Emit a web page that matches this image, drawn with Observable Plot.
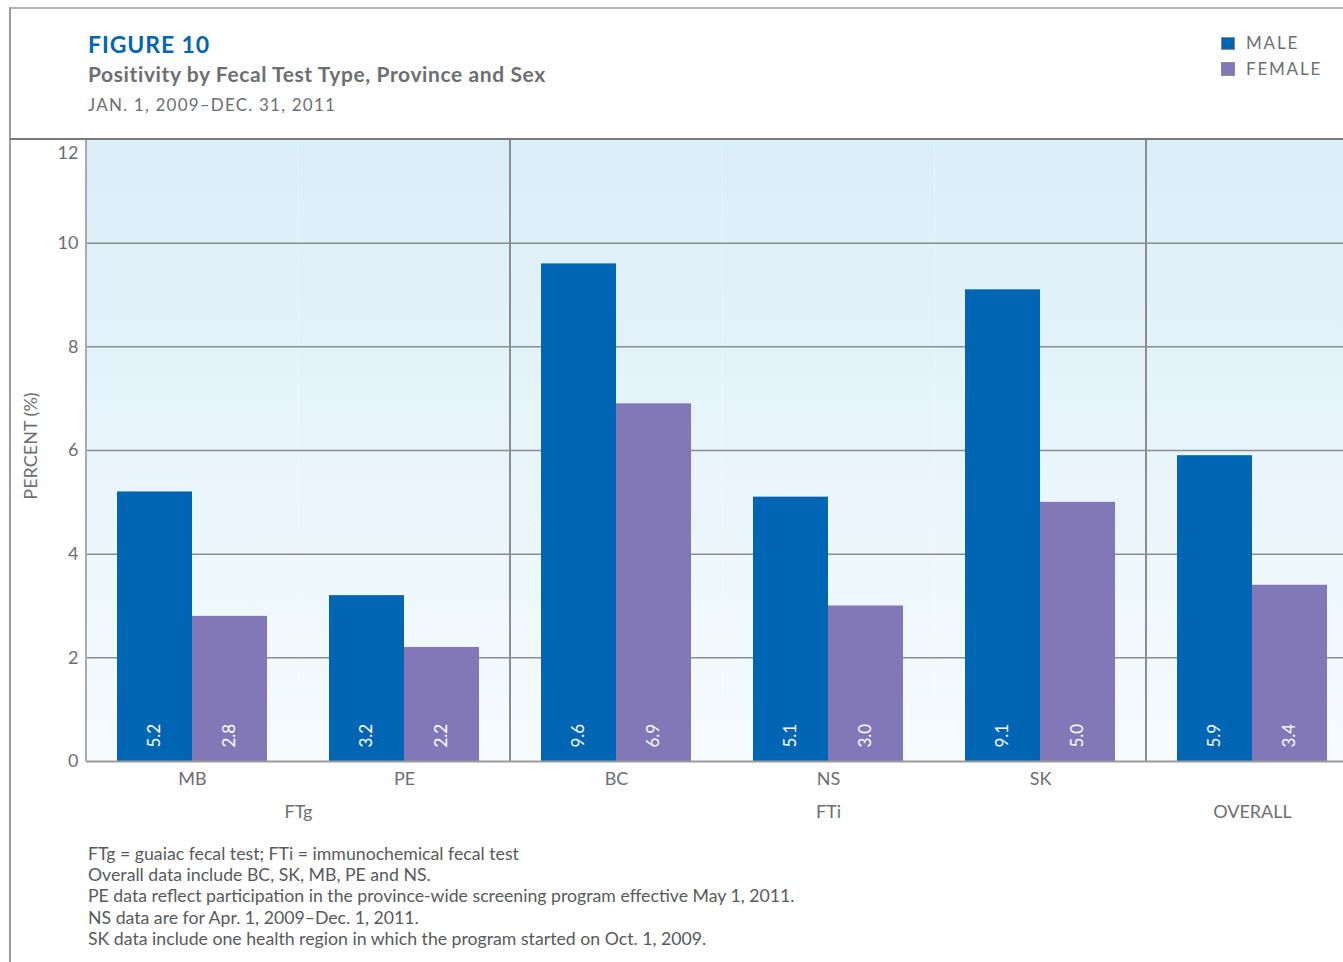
<!DOCTYPE html>
<html>
<head>
<meta charset="utf-8">
<script src="https://cdn.jsdelivr.net/npm/d3@7"></script>
<script src="https://cdn.jsdelivr.net/npm/@observablehq/plot@0.6"></script>
<style>
html, body { margin: 0; padding: 0; background: #fff; }
body { width: 1343px; height: 962px; overflow: hidden; position: relative; font-family: Lato, "Open Sans", sans-serif; }
.abs { position: absolute; white-space: nowrap; line-height: 1; }
#topline { left: 10px; top: 7px; width: 1333px; height: 2px; background: #b4b4b4; }
#leftline { left: 9px; top: 7px; width: 2px; height: 955px; background: #9c9c9c; }
#plotline { left: 10px; top: 138px; width: 1333px; height: 2px; background: #7a7a7a; z-index: 3; }
#title { left: 88px; top: 32.6px; font-size: 23px; font-weight: 700; color: #0066b3; letter-spacing: 0.9px; }
#subtitle { left: 88px; top: 63.4px; font-size: 21px; font-weight: 700; color: #6d6e71; letter-spacing: 0.6px; }
#dates { left: 88px; top: 95.9px; font-size: 17px; color: #6d6e71; letter-spacing: 1.2px; }
.legsw { width: 11.5px; height: 11.5px; border: 1px solid #8a8a8a; }
.legtx { font-size: 17px; color: #6d6e71; letter-spacing: 1.8px; }
#ylabel { left: -70px; top: 437px; width: 200px; height: 18px; text-align: center; font-size: 18px; color: #6d6e71; transform: rotate(-90deg); }
#chartwrap { left: 0; top: 130px; width: 1343px; height: 720px; overflow: hidden; }
#notes { left: 88px; top: 843px; font-size: 17.7px; line-height: 21.2px; color: #58595b; }
</style>
</head>
<body>
<div id="topline" class="abs"></div>
<div id="leftline" class="abs"></div>
<div id="plotline" class="abs"></div>
<div id="title" class="abs"></div>
<div id="subtitle" class="abs"></div>
<div id="dates" class="abs"></div>
<div id="legend"></div>
<div id="ylabel" class="abs"></div>
<div id="chartwrap" class="abs"></div>
<div id="notes" class="abs"></div>
<script>
// ---- data ----
const provinces = ["MB", "PE", "BC", "NS", "SK", "OVERALL"];
const sexes = ["MALE", "FEMALE"];
const maleValues = [5.2, 3.2, 9.6, 5.1, 9.1, 5.9];
const femaleValues = [2.8, 2.2, 6.9, 3.0, 5.0, 3.4];
const sexColors = ["#0066b3", "#8278b8"];
const yTicks = [0, 2, 4, 6, 8, 10, 12];
const gridValues = [2, 4, 6, 8, 10];
const groupNames = ["FTg", "FTi", "OVERALL"];
const groupMembers = [["MB", "PE"], ["BC", "NS", "SK"], ["OVERALL"]];
const separatorBefore = ["BC", "OVERALL"];
const titleText = "FIGURE 10";
const subtitleText = "Positivity by Fecal Test Type, Province and Sex";
const dateText = "JAN. 1, 2009–DEC. 31, 2011";
const yLabelText = "PERCENT (%)";
const footnotes = [
  "FTg = guaiac fecal test; FTi = immunochemical fecal test",
  "Overall data include BC, SK, MB, PE and NS.",
  "PE data reflect participation in the province-wide screening program effective May 1, 2011.",
  "NS data are for Apr. 1, 2009–Dec. 1, 2011.",
  "SK data include one health region in which the program started on Oct. 1, 2009."
];

// ---- header / legend / notes ----
document.getElementById("title").textContent = titleText;
document.getElementById("subtitle").textContent = subtitleText;
document.getElementById("dates").textContent = dateText;
document.getElementById("ylabel").textContent = yLabelText;
document.getElementById("notes").innerHTML = footnotes.map(s => `<div>${s}</div>`).join("");
const legend = document.getElementById("legend");
sexes.forEach((s, i) => {
  const sw = document.createElement("div");
  sw.className = "abs legsw";
  sw.style.left = "1221px";
  sw.style.top = (36.7 + i * 25.6) + "px";
  sw.style.background = sexColors[i];
  legend.appendChild(sw);
  const tx = document.createElement("div");
  tx.className = "abs legtx";
  tx.style.left = "1246px";
  tx.style.top = (34.2 + i * 25.7) + "px";
  tx.textContent = s;
  legend.appendChild(tx);
});

// ---- chart ----
const data = provinces.flatMap((p, i) => [
  {province: p, sex: "MALE", value: maleValues[i]},
  {province: p, sex: "FEMALE", value: femaleValues[i]}
]);
const groups = groupNames.map((g, i) => {
  const m = groupMembers[i];
  return {name: g, odd: m.length % 2 === 1, at: m[Math.floor((m.length - 1) / 2)]};
});
// provinces that are their own group carry only the group label
const soloNames = new Set(groupMembers.filter((m, i) => m.length === 1 && m[0] === groupNames[i]).map(m => m[0]));
const topTick = yTicks[yTicks.length - 1];

const chart = Plot.plot({
  width: 1358,
  height: 700,
  marginLeft: 86,
  marginRight: 0,
  marginTop: 9,
  marginBottom: 69,
  style: {fontFamily: "Lato, sans-serif", fontSize: "18px", color: "#6d6e71", background: "transparent", overflow: "visible", maxWidth: "none"},
  fx: {domain: provinces, padding: 0, label: null, axis: "bottom", tickSize: 0, tickPadding: 11,
       tickFormat: p => soloNames.has(p) ? "" : p},
  x: {domain: sexes, axis: null, paddingInner: 0, paddingOuter: 0.413},
  y: {domain: [0, topTick], ticks: yTicks.slice(0, -1), tickSize: 0, tickPadding: 8, label: null},
  color: {domain: sexes, range: sexColors},
  marks: [
    Plot.frame({fill: "url(#bggrad)", stroke: "none"}),
    Plot.ruleY(gridValues, {stroke: "#8a8d91", strokeWidth: 1.5}),
    Plot.barY(data, {fx: "province", x: "sex", y: "value", fill: "sex"}),
    Plot.ruleY([0], {stroke: "#9a9a9a", strokeWidth: 2}),
    Plot.text(data, {fx: "province", x: "sex", y: 0, text: d => d.value.toFixed(1), rotate: -90,
      textAnchor: "start", lineAnchor: "middle", dy: -14, fill: "white", fontSize: 17}),
    Plot.text([topTick], {fx: () => provinces[0], y: d => d, text: d => String(d), frameAnchor: "left",
      textAnchor: "end", lineAnchor: "middle", dx: -8, dy: 14, fill: "#6d6e71", fontSize: 18}),
    Plot.text(groups.filter(g => g.odd), {fx: "at", text: "name", frameAnchor: "bottom", lineAnchor: "middle", dy: 51, fill: "#6d6e71", fontSize: 18}),
    Plot.text(groups.filter(g => !g.odd), {fx: "at", text: "name", frameAnchor: "bottom-right", textAnchor: "middle", lineAnchor: "middle", dy: 51, fill: "#6d6e71", fontSize: 18})
  ]
});
chart.style.maxWidth = "none";

const svg = d3.select(chart);
const defs = svg.insert("defs", ":first-child");
const grad = defs.append("linearGradient").attr("id", "bggrad").attr("x1", 0).attr("y1", 0).attr("x2", 0).attr("y2", 1);
grad.append("stop").attr("offset", "0%").attr("stop-color", "#daeef8");
grad.append("stop").attr("offset", "100%").attr("stop-color", "#f6fbfe");

const fxs = chart.scale("fx");
const ys = chart.scale("y");
const yTop = ys.apply(topTick), yBot = ys.apply(0);
svg.append("line").attr("x1", fxs.apply(provinces[0])).attr("x2", fxs.apply(provinces[0]))
  .attr("y1", yTop).attr("y2", yBot).attr("stroke", "#a9abad").attr("stroke-width", 2);
separatorBefore.forEach(p => {
  const x = fxs.apply(p);
  svg.append("line").attr("x1", x).attr("x2", x).attr("y1", yTop).attr("y2", yBot)
    .attr("stroke", "#8a8d91").attr("stroke-width", 2);
});

document.getElementById("chartwrap").appendChild(chart);
</script>
</body>
</html>
